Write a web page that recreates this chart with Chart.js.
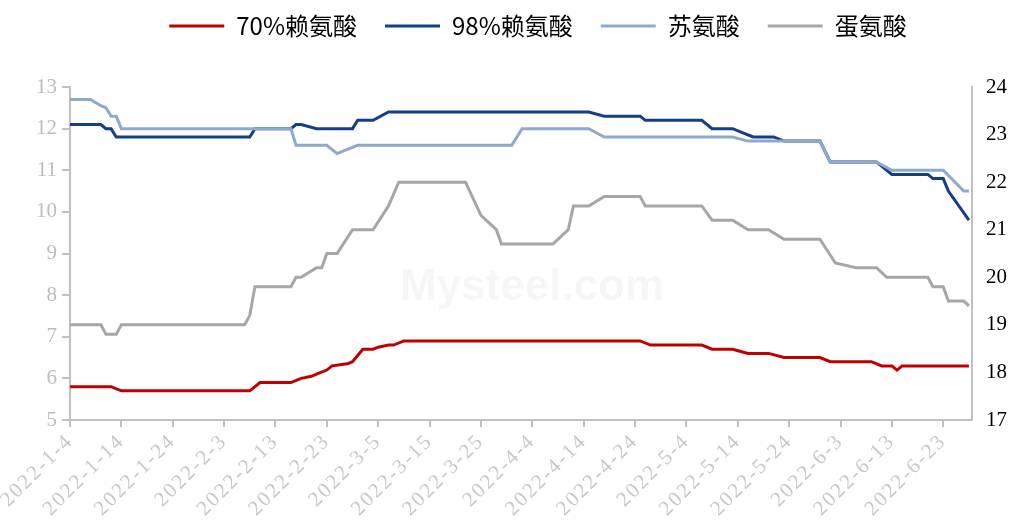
<!DOCTYPE html>
<html>
<head>
<meta charset="utf-8">
<script src="https://cdn.jsdelivr.net/npm/chart.js@4"></script>
<style>
  html, body { margin: 0; padding: 0; background: #fff; }
  canvas { display: block; }
</style>
</head>
<body>
<canvas id="aminoChart" width="1016" height="526"></canvas>
<script>
// x = days after 2022-1-4, y = price
const tickLabels = ['2022-1-4', '2022-1-14', '2022-1-24', '2022-2-3', '2022-2-13', '2022-2-23',
  '2022-3-5', '2022-3-15', '2022-3-25', '2022-4-4', '2022-4-14', '2022-4-24',
  '2022-5-4', '2022-5-14', '2022-5-24', '2022-6-3', '2022-6-13', '2022-6-23'];

const seriesNames = ['70%赖氨酸', '98%赖氨酸', '苏氨酸', '蛋氨酸'];

// 70%赖氨酸 (left axis)
const lys70 = [[0,5.8],[8,5.8],[10,5.7],[35,5.7],[37,5.9],[43,5.9],[45,6.0],[47,6.05],[48,6.1],
  [50,6.2],[51,6.3],[54,6.35],[55,6.4],[57,6.7],[59,6.7],[60,6.75],[62,6.8],[63,6.8],[65,6.9],
  [111,6.9],[113,6.8],[123,6.8],[125,6.7],[129,6.7],[132,6.6],[136,6.6],[139,6.5],[146,6.5],
  [148,6.4],[156,6.4],[158,6.3],[160,6.3],[161,6.2],[162,6.3],[175,6.3]];

// 98%赖氨酸 (left axis)
const lys98 = [[0,12.1],[6,12.1],[7,12.0],[8,12.0],[9,11.8],[35,11.8],[36,12.0],[43,12.0],
  [44,12.1],[45,12.1],[48,12.0],[55,12.0],[56,12.2],[59,12.2],[62,12.4],[101,12.4],[104,12.3],
  [111,12.3],[112,12.2],[123,12.2],[125,12.0],[129,12.0],[131,11.9],[133,11.8],[137,11.8],
  [139,11.7],[146,11.7],[148,11.2],[157,11.2],[160,10.9],[167,10.9],[168,10.8],[170,10.8],
  [171,10.5],[175,9.8]];

// 苏氨酸 (left axis)
const thr = [[0,12.7],[4,12.7],[6,12.55],[7,12.5],[8,12.3],[9,12.3],[10,12.0],[43,12.0],
  [44,11.6],[50,11.6],[52,11.4],[54,11.5],[56,11.6],[86,11.6],[88,12.0],[101,12.0],[104,11.8],
  [129,11.8],[132,11.7],[146,11.7],[148,11.2],[157,11.2],[160,11.0],[170,11.0],[174,10.5],
  [175,10.5]];

// 蛋氨酸 (right axis)
const met = [[0,19.0],[6,19.0],[7,18.8],[9,18.8],[10,19.0],[34,19.0],[35,19.2],[36,19.8],
  [43,19.8],[44,20.0],[45,20.0],[48,20.2],[49,20.2],[50,20.5],[52,20.5],[55,21.0],[59,21.0],
  [62,21.5],[64,22.0],[77,22.0],[80,21.3],[83,21.0],[84,20.7],[94,20.7],[97,21.0],[98,21.5],
  [101,21.5],[104,21.7],[111,21.7],[112,21.5],[123,21.5],[125,21.2],[129,21.2],[132,21.0],
  [136,21.0],[139,20.8],[146,20.8],[149,20.3],[153,20.2],[157,20.2],[159,20.0],[167,20.0],
  [168,19.8],[170,19.8],[171,19.5],[174,19.5],[175,19.4]];

const toXY = arr => arr.map(p => ({ x: p[0], y: p[1] }));
const axisGray = '#C0C0C0';

// legend takes the whole band above the plot, shifted a bit to the right
const legendBox = {
  id: 'legendBox',
  beforeInit(chart) {
    const fit = chart.legend.fit;
    chart.legend.fit = function () {
      fit.bind(chart.legend)();
      this.height = 101;
    };
  },
  afterLayout(chart) {
    chart.legend.left += 60;
  }
};

// wider letter spacing on the date labels
const spacedDates = {
  id: 'spacedDates',
  beforeDraw(chart) {
    const xs = chart.scales.x;
    if (xs._spaced) return;
    const orig = xs.drawLabels;
    xs.drawLabels = function (area) {
      const c = this.ctx;
      c.save();
      c.letterSpacing = '2px';
      orig.call(this, area);
      c.restore();
    };
    xs._spaced = true;
  }
};

// faint watermark
const watermark = {
  id: 'watermark',
  beforeDatasetsDraw(chart) {
    const { ctx } = chart;
    ctx.save();
    ctx.font = 'bold 44px "Liberation Sans"';
    ctx.fillStyle = 'rgba(0,0,0,0.035)';
    ctx.textAlign = 'left';
    ctx.textBaseline = 'alphabetic';
    ctx.fillText('Mysteel.com', 400, 300);
    ctx.restore();
  }
};

function makeSet(name, data, color, axis, order) {
  return {
    label: name,
    data: toXY(data),
    yAxisID: axis,
    borderColor: color,
    backgroundColor: color,
    borderWidth: 3,
    pointRadius: 0,
    pointHoverRadius: 0,
    tension: 0,
    fill: false,
    order: order
  };
}

new Chart(document.getElementById('aminoChart').getContext('2d'), {
  type: 'line',
  data: {
    datasets: [
      makeSet(seriesNames[0], lys70, '#C00000', 'y', 2),
      makeSet(seriesNames[1], lys98, '#123F87', 'y', 1),
      makeSet(seriesNames[2], thr, '#8DA9CB', 'y', 0),
      makeSet(seriesNames[3], met, '#A6A6A6', 'y1', 3)
    ]
  },
  options: {
    responsive: false,
    animation: false,
    layout: { padding: { top: -14, left: 0, right: 0, bottom: 0 } },
    plugins: {
      tooltip: { enabled: false },
      legend: {
        display: true,
        position: 'top',
        align: 'center',
        labels: {
          usePointStyle: true,
          pointStyle: 'line',
          pointStyleWidth: 55,
          padding: 28,
          color: '#000',
          sort: (a, b) => a.datasetIndex - b.datasetIndex,
          font: { size: 24, family: '"Noto Sans CJK SC", "Noto Sans", sans-serif' }
        }
      }
    },
    scales: {
      x: {
        type: 'linear',
        min: 0,
        max: 175.6,
        border: { display: true, color: axisGray, width: 2 },
        grid: { drawOnChartArea: false, drawTicks: true, tickLength: 7, color: axisGray, lineWidth: 2 },
        ticks: {
          stepSize: 10,
          includeBounds: false,
          autoSkip: false,
          minRotation: 45,
          maxRotation: 45,
          padding: 2,
          color: '#C8C8C8',
          font: { size: 21, family: '"Liberation Serif", serif' },
          callback: v => (v % 10 === 0 ? tickLabels[v / 10] : null)
        },
        afterFit(scale) { scale.height = 106; }
      },
      y: {
        position: 'left',
        min: 5,
        max: 13,
        border: { display: true, color: axisGray, width: 2 },
        grid: { drawOnChartArea: false, drawTicks: true, tickLength: 8, color: axisGray, lineWidth: 2 },
        ticks: {
          stepSize: 1,
          padding: 5,
          color: '#BDBDBD',
          font: { size: 21, family: '"Liberation Serif", serif' }
        },
        afterFit(scale) { scale.width = 70; }
      },
      y1: {
        position: 'right',
        min: 17,
        max: 24,
        border: { display: true, color: axisGray, width: 2 },
        grid: { drawOnChartArea: false, drawTicks: false },
        ticks: {
          stepSize: 1,
          padding: 14,
          color: '#000',
          font: { size: 21, family: '"Liberation Serif", serif' }
        },
        afterFit(scale) { scale.width = 44; }
      }
    }
  },
  plugins: [legendBox, spacedDates, watermark]
});
</script>
</body>
</html>
